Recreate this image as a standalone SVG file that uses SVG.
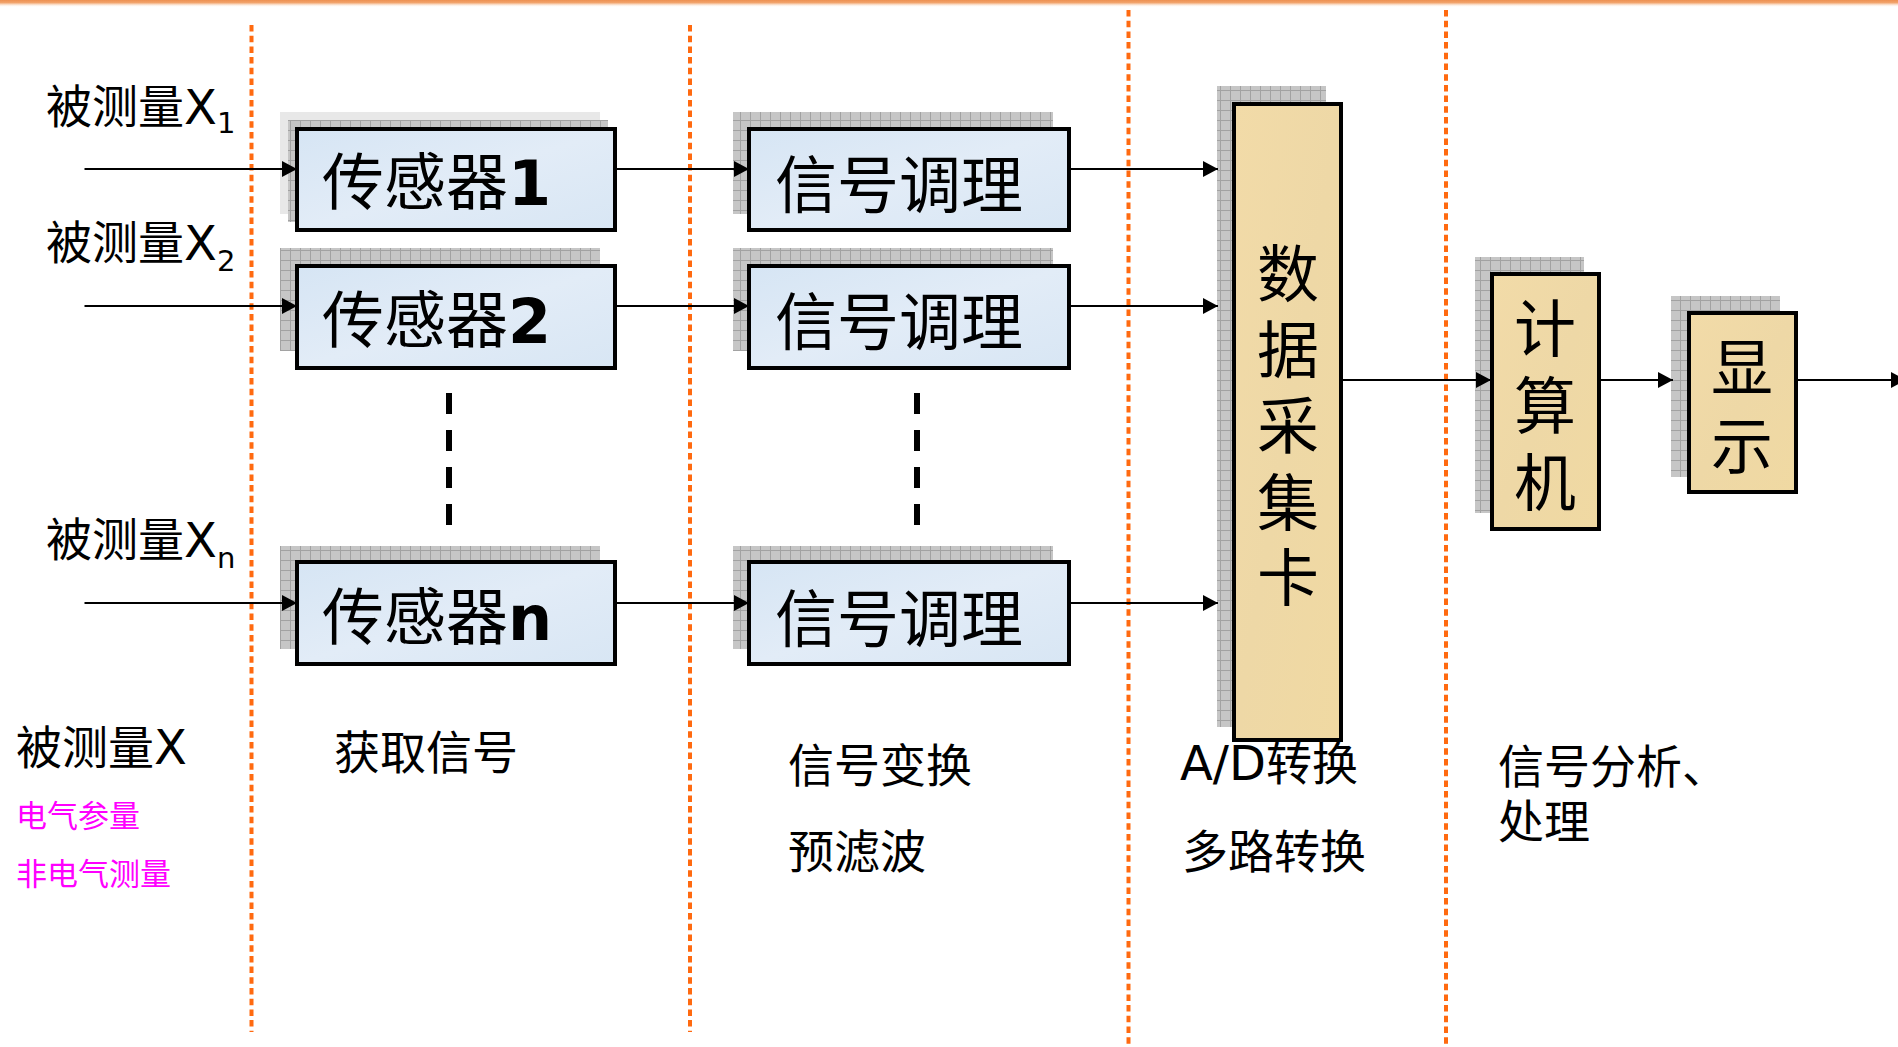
<svg xmlns="http://www.w3.org/2000/svg" width="1898" height="1047" viewBox="0 0 1898 1047">
<style>
.cjk{font-family:"Noto Sans CJK SC","Noto Sans",sans-serif;fill:#000}
.lat{font-family:"DejaVu Sans","Liberation Sans",sans-serif}
.mag{fill:#ff00ff}
.blue{fill:url(#blueFill);stroke:#000;stroke-width:4}
.tan{fill:url(#tanFill);stroke:#000;stroke-width:4}
.shadow{fill:url(#grid)}
.conn{stroke:#000;stroke-width:2;fill:none;marker-end:url(#ah)}
.sep{stroke:#ff6a10;stroke-width:4;stroke-dasharray:6.5 4.2;fill:none}
.dash{stroke:#000;stroke-width:6;stroke-dasharray:21 16;fill:none}
</style>
<defs>
<pattern id="grid" width="10" height="10" patternUnits="userSpaceOnUse">
<rect width="10" height="10" fill="#c6c6c6"/>
<path d="M0 0.5H10M0.5 0V10" stroke="#a2a2a2" stroke-width="1"/>
</pattern>
<linearGradient id="blueFill" x1="0" y1="0" x2="1" y2="1">
<stop offset="0" stop-color="#d6e5f4"/>
<stop offset="0.5" stop-color="#e2ecf7"/>
<stop offset="1" stop-color="#d8e6f4"/>
</linearGradient>
<linearGradient id="tanFill" x1="0" y1="0" x2="1" y2="1">
<stop offset="0" stop-color="#f2dba8"/>
<stop offset="0.5" stop-color="#eed8a6"/>
<stop offset="1" stop-color="#f0d9a2"/>
</linearGradient>
<linearGradient id="topbar" x1="0" y1="0" x2="0" y2="1">
<stop offset="0" stop-color="#ee9050"/>
<stop offset="0.4" stop-color="#f2a56e"/>
<stop offset="1" stop-color="#fff4ea" stop-opacity="0"/>
</linearGradient>
<marker id="ah" markerUnits="userSpaceOnUse" markerWidth="16" markerHeight="16" refX="15" refY="8" orient="auto">
<path d="M0,0 L15,8 L0,16 z" fill="#000"/>
</marker>
</defs>
<rect width="1898" height="1047" fill="#fff"/>
<rect x="0" y="0" width="1898" height="7" fill="url(#topbar)"/>

<g id="separators">
<line class="sep" x1="251.5" y1="25" x2="251.5" y2="1032"/>
<line class="sep" x1="690" y1="25" x2="690" y2="1032"/>
<line class="sep" x1="1128.5" y1="10" x2="1128.5" y2="1047"/>
<line class="sep" x1="1446" y1="10" x2="1446" y2="1047"/>
</g>

<g id="input-labels">
<text class="cjk" x="46" y="123" font-size="46">被测量<tspan class="lat" font-size="48" dy="1">X</tspan><tspan class="lat" font-size="29" dy="9">1</tspan></text>
<text class="cjk" x="46" y="259" font-size="46">被测量<tspan class="lat" font-size="48" dy="1">X</tspan><tspan class="lat" font-size="29" dy="11">2</tspan></text>
<text class="cjk" x="46" y="556" font-size="46">被测量<tspan class="lat" font-size="48" dy="1">X</tspan><tspan class="lat" font-size="29" dy="11">n</tspan></text>
</g>

<g id="sensor1">
<rect x="280" y="112" width="320" height="102" fill="#e8e8e8"/>
<rect class="shadow" x="288" y="120" width="320" height="102"/>
<rect class="blue" x="297" y="129" width="318" height="101"/>
<text class="cjk" x="322" y="205" font-size="62">传感器<tspan class="lat" font-weight="bold">1</tspan></text>
</g>
<g id="sensor2">
<rect class="shadow" x="280" y="248" width="320" height="103"/>
<rect class="blue" x="297" y="266" width="318" height="102"/>
<text class="cjk" x="322" y="343" font-size="62">传感器<tspan class="lat" font-weight="bold">2</tspan></text>
</g>
<g id="sensorn">
<rect class="shadow" x="280" y="546" width="320" height="103"/>
<rect class="blue" x="297" y="562" width="318" height="102"/>
<text class="cjk" x="322" y="640" font-size="62">传感器<tspan class="lat" font-weight="bold">n</tspan></text>
</g>

<g id="cond1">
<rect class="shadow" x="733" y="112" width="320" height="102"/>
<rect class="blue" x="749" y="129" width="320" height="101"/>
<text class="cjk" x="775" y="208" font-size="62">信号调理</text>
</g>
<g id="cond2">
<rect class="shadow" x="733" y="248" width="320" height="103"/>
<rect class="blue" x="749" y="266" width="320" height="102"/>
<text class="cjk" x="775" y="345" font-size="62">信号调理</text>
</g>
<g id="condn">
<rect class="shadow" x="733" y="546" width="320" height="103"/>
<rect class="blue" x="749" y="562" width="320" height="102"/>
<text class="cjk" x="775" y="642" font-size="62">信号调理</text>
</g>

<g id="daq">
<rect class="shadow" x="1217" y="86" width="109" height="641"/>
<rect class="tan" x="1234" y="104" width="107" height="636"/>
<text class="cjk" font-size="62" text-anchor="middle"><tspan x="1288" y="297">数</tspan><tspan x="1288" y="373">据</tspan><tspan x="1288" y="449">采</tspan><tspan x="1288" y="526">集</tspan><tspan x="1288" y="601">卡</tspan></text>
</g>

<g id="computer">
<rect class="shadow" x="1475" y="257" width="109" height="256"/>
<rect class="tan" x="1492" y="274" width="107" height="255"/>
<text class="cjk" font-size="62" text-anchor="middle"><tspan x="1545" y="352">计</tspan><tspan x="1545" y="429">算</tspan><tspan x="1545" y="506">机</tspan></text>
</g>

<g id="display">
<rect class="shadow" x="1671" y="296" width="109" height="181"/>
<rect class="tan" x="1689" y="313" width="107" height="179"/>
<text class="cjk" font-size="62" text-anchor="middle"><tspan x="1742" y="391">显</tspan><tspan x="1742" y="469">示</tspan></text>
</g>

<g id="connectors">
<line class="conn" x1="84.5" y1="169" x2="297" y2="169"/>
<line class="conn" x1="615" y1="169" x2="749" y2="169"/>
<line class="conn" x1="1069" y1="169" x2="1218" y2="169"/>
<line class="conn" x1="84.5" y1="306" x2="297" y2="306"/>
<line class="conn" x1="615" y1="306" x2="749" y2="306"/>
<line class="conn" x1="1069" y1="306" x2="1218" y2="306"/>
<line class="conn" x1="84.5" y1="603" x2="297" y2="603"/>
<line class="conn" x1="615" y1="603" x2="749" y2="603"/>
<line class="conn" x1="1069" y1="603" x2="1218" y2="603"/>
<line class="conn" x1="1341" y1="380" x2="1491" y2="380"/>
<line class="conn" x1="1599" y1="380" x2="1673" y2="380"/>
<line class="conn" x1="1796" y1="380" x2="1906" y2="380"/>
<line class="dash" x1="449" y1="393" x2="449" y2="526"/>
<line class="dash" x1="917" y1="393" x2="917" y2="526"/>
</g>

<g id="stage-labels">
<text class="cjk" x="16" y="764" font-size="46">被测量<tspan class="lat" font-size="48">X</tspan></text>
<text class="cjk mag" x="16" y="827" font-size="31">电气参量</text>
<text class="cjk mag" x="16" y="885" font-size="31">非电气测量</text>
<text class="cjk" x="334" y="769" font-size="46">获取信号</text>
<text class="cjk" x="788" y="782" font-size="46">信号变换</text>
<text class="cjk" x="788" y="868" font-size="46">预滤波</text>
<text class="cjk" x="1180" y="780" font-size="46"><tspan class="lat" font-size="48">A/D</tspan>转换</text>
<text class="cjk" x="1182" y="868" font-size="46">多路转换</text>
<text class="cjk" x="1498" y="783" font-size="46">信号分析、</text>
<text class="cjk" x="1498" y="838" font-size="46">处理</text>
</g>
</svg>
